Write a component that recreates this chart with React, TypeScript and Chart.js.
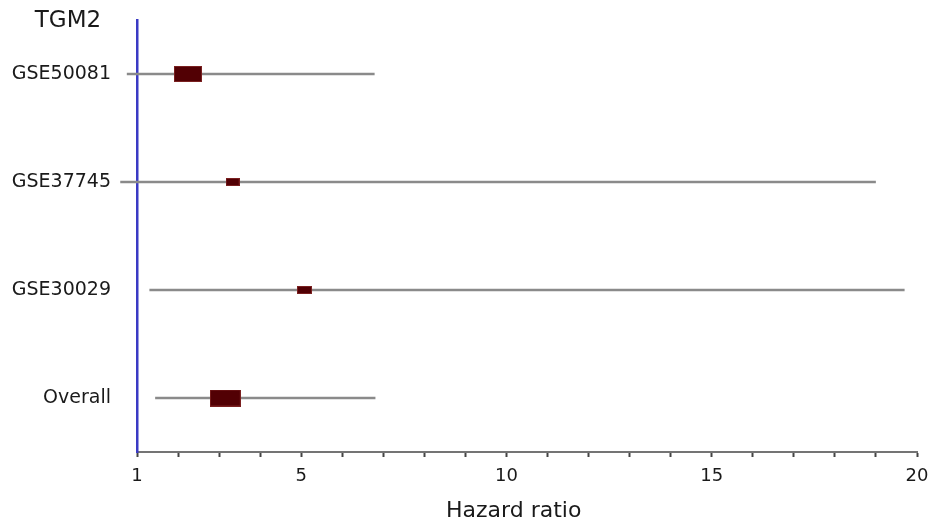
import React, { useEffect, useRef } from 'react';
import { Chart, registerables } from 'chart.js';

Chart.register(...registerables);

// ---- data ----
const geneName = 'TGM2';
const studies = ['GSE50081', 'GSE37745', 'GSE30029', 'Overall'];
const hazardRatios = [2.24, 3.33, 5.08, 3.15];
const lowerCI = [0.76, 0.6, 1.31, 1.45];
const upperCI = [6.78, 18.99, 19.69, 6.8];
const weights = [28, 14, 15, 31];
const xTickLabels = [1, 5, 10, 15, 20];
const xTitle = 'Hazard ratio';

const FONT = "'DejaVu Sans', 'Noto Sans', sans-serif";
const TEXT = '#1a1a1a';
const BOX_COLOR = '#520004';

function boxImage(weight: number): HTMLCanvasElement {
  const w = Math.round(weight);
  const h = Math.max(8, Math.round(weight * 0.56));
  const c = document.createElement('canvas');
  c.width = w;
  c.height = h;
  const g = c.getContext('2d')!;
  g.fillStyle = BOX_COLOR;
  g.fillRect(0, 0, w, h);
  g.strokeStyle = '#7a2020';
  g.lineWidth = 1;
  g.strokeRect(0.5, 0.5, w - 1, h - 1);
  return c;
}

const textPlugin = {
  id: 'forestText',
  afterDraw(chart: any) {
    const { ctx, chartArea } = chart;
    ctx.save();
    ctx.fillStyle = TEXT;
    ctx.textAlign = 'center';
    ctx.textBaseline = 'middle';
    ctx.font = `23px ${FONT}`;
    ctx.fillText(geneName, chartArea.left - 69, chartArea.top + 1);
    ctx.font = `22px ${FONT}`;
    const cx = chartArea.left + (chartArea.right - chartArea.left) * 0.483;
    ctx.fillText(xTitle, cx, chart.height - 12);
    ctx.restore();
  },
};

export default function App() {
  const ref = useRef<HTMLCanvasElement | null>(null);

  useEffect(() => {
    if (!ref.current) return;
    const images = weights.map((w) => boxImage(w));
    const chart = new Chart(ref.current, {
      type: 'bar',
      data: {
        labels: studies,
        datasets: [
          {
            type: 'bar',
            label: 'CI',
            data: studies.map((_, i) => [lowerCI[i], upperCI[i]]) as any,
            backgroundColor: '#8a8a8a',
            borderWidth: 0,
            barThickness: 2,
            clip: false as any,
            order: 2,
          },
          {
            type: 'line',
            label: 'HR',
            data: studies.map((s, i) => ({ x: hazardRatios[i], y: s })) as any,
            showLine: false,
            pointRadius: 5,
            pointHoverRadius: 5,
            pointStyle: ((ctx: any) => images[ctx.dataIndex]) as any,
            clip: false as any,
            order: 1,
          },
        ],
      },
      options: {
        indexAxis: 'y',
        animation: false,
        responsive: true,
        maintainAspectRatio: false,
        events: [],
        layout: { padding: { top: 20, right: 16, left: 0, bottom: 0 } },
        plugins: {
          legend: { display: false },
          tooltip: { enabled: false },
        },
        scales: {
          x: {
            type: 'linear',
            min: 1,
            max: 20,
            afterFit: (s: any) => {
              s.height = 71;
              s.paddingLeft = 0;
              s.paddingRight = 0;
            },
            ticks: {
              stepSize: 1,
              autoSkip: false,
              maxRotation: 0,
              padding: 9,
              color: TEXT,
              font: { family: FONT, size: 18 },
              callback: (v: any) => (xTickLabels.includes(Number(v)) ? String(v) : ''),
            },
            grid: {
              drawOnChartArea: false,
              drawTicks: true,
              tickLength: 5,
              tickWidth: 2,
              tickColor: '#444',
            },
            border: { display: true, color: '#747474', width: 2 },
            title: { display: false },
          },
          y: {
            type: 'category',
            labels: studies,
            offset: true,
            z: 1,
            afterFit: (s: any) => {
              s.width = 137;
              s.paddingTop = 0;
              s.paddingBottom = 0;
            },
            ticks: {
              padding: 26,
              color: TEXT,
              font: { family: FONT, size: 19 },
            },
            grid: { drawOnChartArea: false, drawTicks: false },
            border: { display: true, color: '#3a3ac4', width: 2.5 },
          },
        },
      },
      plugins: [textPlugin],
    });
    return () => chart.destroy();
  }, []);

  return (
    <div style={{ position: 'absolute', left: 0, top: 0, width: 933, height: 523, background: '#fff' }}>
      <canvas ref={ref} />
    </div>
  );
}
